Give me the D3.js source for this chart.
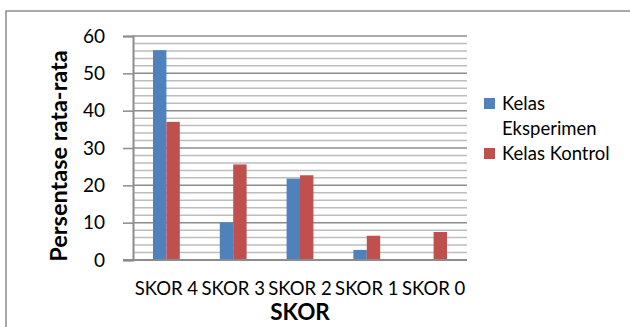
<!DOCTYPE html>
<meta charset="utf-8">
<style>
    body { margin: 0; background: #fff; }
    text { font-family: Lato, "Open Sans", sans-serif; fill: #000; }
</style>
<body>
    <script src="https://d3js.org/d3.v7.min.js"></script>
    <script>
        // data
        var categories = ["SKOR 4", "SKOR 3", "SKOR 2", "SKOR 1", "SKOR 0"];
        var seriesNames = ["Kelas Eksperimen", "Kelas Kontrol"];
        var eksperimen = [56.2, 10, 21.8, 2.7, 0];
        var kontrol = [37, 25.6, 22.7, 6.5, 7.5];
        var yTicks = [0, 10, 20, 30, 40, 50, 60];
        var colors = ["#4f81bd", "#c0504d"];

        var width = 630,
            height = 327;

        var svg = d3.select("body").append("svg")
            .attr("width", width)
            .attr("height", height);

        // outer frame (runs off the right and bottom edge)
        svg.append("rect")
            .attr("x", 6).attr("y", 11)
            .attr("width", 700).attr("height", 400)
            .attr("fill", "none")
            .attr("stroke", "#8c8c8c")
            .attr("stroke-width", 1.5);

        var plot = { left: 133, right: 467, top: 36, bottom: 260 };

        var x = d3.scaleBand()
            .domain(categories)
            .range([plot.left, plot.right]);

        var y = d3.scaleLinear()
            .domain([0, 60])
            .range([plot.bottom, plot.top]);

        var g = svg.append("g");

        // minor gridlines every 2
        g.selectAll("line.minor")
            .data(d3.range(2, 60, 2).filter(function(d) { return d % 10 !== 0; }))
            .enter().append("line")
            .attr("class", "minor")
            .attr("x1", plot.left).attr("x2", plot.right)
            .attr("y1", function(d) { return y(d); })
            .attr("y2", function(d) { return y(d); })
            .attr("stroke", "#bdbdbd")
            .attr("stroke-width", 1.5);

        // major gridlines
        g.selectAll("line.major")
            .data(yTicks.slice(1))
            .enter().append("line")
            .attr("class", "major")
            .attr("x1", plot.left).attr("x2", plot.right)
            .attr("y1", function(d) { return y(d); })
            .attr("y2", function(d) { return y(d); })
            .attr("stroke", "#8c8c8c")
            .attr("stroke-width", 1.5);

        // bars
        var sub = d3.scaleBand()
            .domain(seriesNames)
            .range([x.bandwidth() / 2 - 13.4, x.bandwidth() / 2 + 13.4]);

        var rows = categories.map(function(c, i) {
            return { cat: c, values: [eksperimen[i], kontrol[i]] };
        });

        var groups = g.selectAll("g.grp")
            .data(rows)
            .enter().append("g")
            .attr("transform", function(d) { return "translate(" + x(d.cat) + ",0)"; });

        groups.selectAll("rect")
            .data(function(d) {
                return d.values.map(function(v, k) { return { name: seriesNames[k], v: v, k: k }; });
            })
            .enter().append("rect")
            .attr("x", function(d) { return sub(d.name); })
            .attr("width", sub.bandwidth())
            .attr("y", function(d) { return y(d.v); })
            .attr("height", function(d) { return y(0) - y(d.v); })
            .attr("fill", function(d) { return colors[d.k]; });

        // y axis
        var yAxis = svg.append("g")
            .attr("transform", "translate(" + plot.left + ",0)")
            .call(d3.axisLeft(y).tickValues(yTicks).tickSize(10).tickPadding(18));
        yAxis.selectAll("line").attr("stroke", "#8c8c8c").attr("stroke-width", 1.5);
        yAxis.select(".domain").attr("stroke", "#8c8c8c").attr("stroke-width", 2);
        yAxis.selectAll("text")
            .style("font-family", "Lato, sans-serif")
            .attr("font-size", 19)
            .attr("fill", "#000");

        // x axis
        var xAxis = svg.append("g")
            .attr("transform", "translate(0," + plot.bottom + ")")
            .call(d3.axisBottom(x).tickSize(0).tickPadding(22));
        xAxis.select(".domain")
            .attr("d", "M" + (plot.left - 10) + ",0H" + plot.right)
            .attr("stroke", "#8c8c8c").attr("stroke-width", 2);
        xAxis.selectAll("text")
            .style("font-family", "Lato, sans-serif")
            .attr("font-size", 18.5)
            .attr("fill", "#000");

        // axis titles
        svg.append("text")
            .attr("x", 300).attr("y", 320)
            .attr("text-anchor", "middle")
            .attr("font-size", 22.5)
            .attr("font-weight", "bold")
            .text("SKOR");

        svg.append("text")
            .attr("transform", "translate(67,156) rotate(-90)")
            .attr("text-anchor", "middle")
            .attr("font-size", 23.5)
            .attr("font-weight", "bold")
            .text("Persentase rata-rata");

        // legend
        var legend = [
            { lines: ["Kelas", "Eksperimen"], y: 98 },
            { lines: ["Kelas Kontrol"], y: 148 }
        ];
        legend.forEach(function(l, i) {
            svg.append("rect")
                .attr("x", 484).attr("y", l.y)
                .attr("width", 11).attr("height", 11)
                .attr("fill", colors[i]);
            l.lines.forEach(function(t, j) {
                svg.append("text")
                    .attr("x", 502).attr("y", l.y + 12 + j * 25)
                    .attr("font-size", 18.5)
                    .text(t);
            });
        });
    </script>
</body>
</html>
